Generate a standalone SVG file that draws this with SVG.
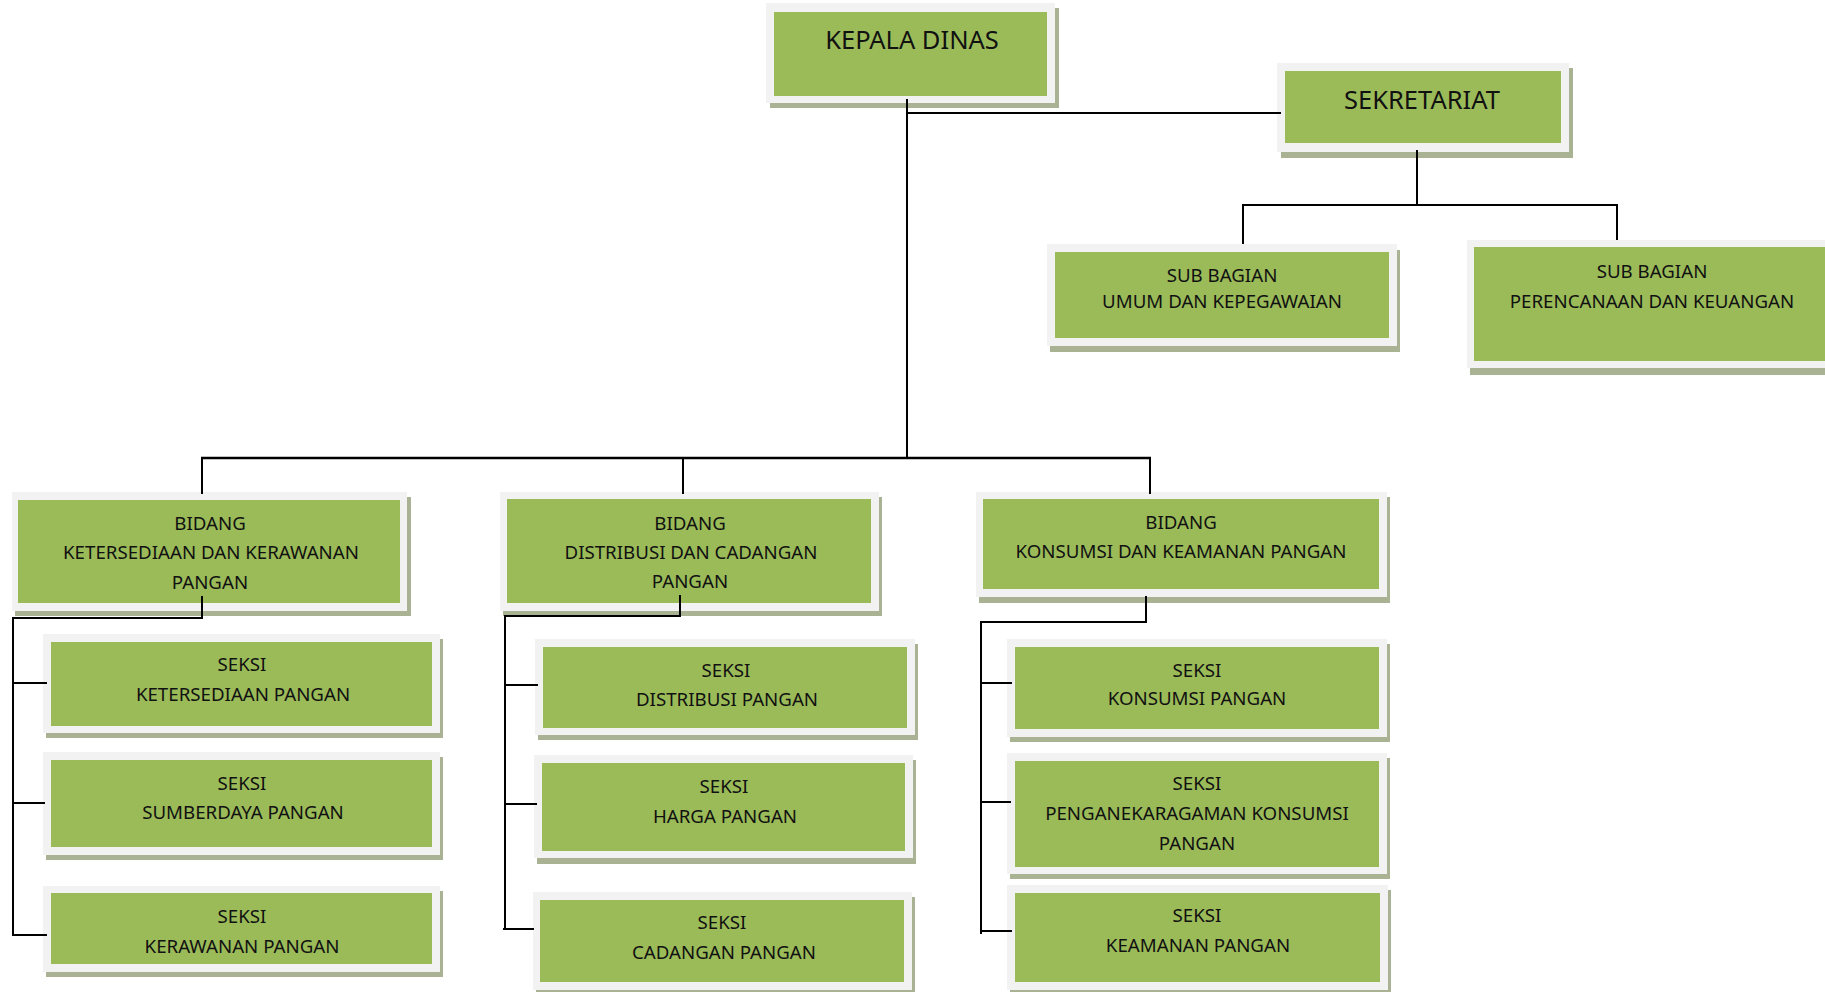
<svg xmlns="http://www.w3.org/2000/svg" width="1825" height="992" viewBox="0 0 1825 992">
<style>
.sh{fill:#a9b293}
.fr{fill:#f2f2f2}
.gr{fill:#9bbb59}
.t{font-family:"Noto Sans","Open Sans","DejaVu Sans",sans-serif;font-size:18.7px;fill:#111;text-anchor:middle}
.b{font-size:25.5px}
.c line{stroke:#000;stroke-width:2;fill:none}
</style>
<rect width="1825" height="992" fill="#fff"/>
<g id="kepala-dinas">
<rect class="sh" x="770" y="8" width="289" height="100"/>
<rect class="fr" x="766" y="3" width="289" height="100"/>
<rect class="gr" x="774" y="12" width="273" height="84"/>
<text class="t b" x="912" y="49">KEPALA DINAS</text>
</g>
<g id="sekretariat">
<rect class="sh" x="1281" y="68" width="292" height="90"/>
<rect class="fr" x="1277" y="63" width="292" height="89"/>
<rect class="gr" x="1285" y="71" width="276" height="72"/>
<text class="t b" x="1422" y="109">SEKRETARIAT</text>
</g>
<g id="subbag-umum">
<rect class="sh" x="1050" y="250" width="350" height="102"/>
<rect class="fr" x="1047" y="244" width="350" height="102"/>
<rect class="gr" x="1055" y="252" width="334" height="86"/>
<text class="t" x="1222" y="282">SUB BAGIAN</text>
<text class="t" x="1222" y="308">UMUM DAN KEPEGAWAIAN</text>
</g>
<g id="subbag-perencanaan">
<rect class="sh" x="1470" y="246" width="360" height="129"/>
<rect class="fr" x="1467" y="240" width="360" height="128"/>
<rect class="gr" x="1474" y="247" width="356" height="114"/>
<text class="t" x="1652" y="278">SUB BAGIAN</text>
<text class="t" x="1652" y="308">PERENCANAAN DAN KEUANGAN</text>
</g>
<g id="bidang-ketersediaan">
<rect class="sh" x="15" y="497" width="396" height="119"/>
<rect class="fr" x="12" y="492" width="395" height="119"/>
<rect class="gr" x="18" y="500" width="382" height="103"/>
<text class="t" x="210" y="530">BIDANG</text>
<text class="t" x="211" y="559">KETERSEDIAAN DAN KERAWANAN</text>
<text class="t" x="210" y="589">PANGAN</text>
</g>
<g id="bidang-distribusi">
<rect class="sh" x="503" y="497" width="379" height="119"/>
<rect class="fr" x="500" y="492" width="379" height="119"/>
<rect class="gr" x="507" y="499" width="364" height="104"/>
<text class="t" x="690" y="530">BIDANG</text>
<text class="t" x="691" y="559">DISTRIBUSI DAN CADANGAN</text>
<text class="t" x="690" y="588">PANGAN</text>
</g>
<g id="bidang-konsumsi">
<rect class="sh" x="979" y="497" width="411" height="106"/>
<rect class="fr" x="976" y="492" width="411" height="105"/>
<rect class="gr" x="983" y="499" width="396" height="90"/>
<text class="t" x="1181" y="529">BIDANG</text>
<text class="t" x="1181" y="558">KONSUMSI DAN KEAMANAN PANGAN</text>
</g>
<g id="seksi-ketersediaan">
<rect class="sh" x="46" y="639" width="397" height="99"/>
<rect class="fr" x="43" y="634" width="397" height="99"/>
<rect class="gr" x="51" y="642" width="381" height="84"/>
<text class="t" x="242" y="671">SEKSI</text>
<text class="t" x="243" y="701">KETERSEDIAAN PANGAN</text>
</g>
<g id="seksi-sumberdaya">
<rect class="sh" x="46" y="757" width="397" height="103"/>
<rect class="fr" x="43" y="752" width="397" height="103"/>
<rect class="gr" x="51" y="760" width="381" height="87"/>
<text class="t" x="242" y="790">SEKSI</text>
<text class="t" x="243" y="819">SUMBERDAYA PANGAN</text>
</g>
<g id="seksi-kerawanan">
<rect class="sh" x="46" y="891" width="397" height="86"/>
<rect class="fr" x="43" y="886" width="397" height="86"/>
<rect class="gr" x="51" y="893" width="381" height="71"/>
<text class="t" x="242" y="923">SEKSI</text>
<text class="t" x="242" y="953">KERAWANAN PANGAN</text>
</g>
<g id="seksi-distribusi">
<rect class="sh" x="538" y="644" width="380" height="96"/>
<rect class="fr" x="535" y="639" width="380" height="96"/>
<rect class="gr" x="543" y="647" width="364" height="81"/>
<text class="t" x="726" y="677">SEKSI</text>
<text class="t" x="727" y="706">DISTRIBUSI PANGAN</text>
</g>
<g id="seksi-harga">
<rect class="sh" x="537" y="760" width="379" height="104"/>
<rect class="fr" x="534" y="755" width="379" height="103"/>
<rect class="gr" x="542" y="763" width="363" height="88"/>
<text class="t" x="724" y="793">SEKSI</text>
<text class="t" x="725" y="823">HARGA PANGAN</text>
</g>
<g id="seksi-cadangan">
<rect class="sh" x="536" y="897" width="379" height="98"/>
<rect class="fr" x="533" y="892" width="379" height="98"/>
<rect class="gr" x="540" y="900" width="364" height="82"/>
<text class="t" x="722" y="929">SEKSI</text>
<text class="t" x="724" y="959">CADANGAN PANGAN</text>
</g>
<g id="seksi-konsumsi">
<rect class="sh" x="1010" y="644" width="380" height="98"/>
<rect class="fr" x="1007" y="639" width="380" height="98"/>
<rect class="gr" x="1015" y="647" width="364" height="82"/>
<text class="t" x="1197" y="677">SEKSI</text>
<text class="t" x="1197" y="705">KONSUMSI PANGAN</text>
</g>
<g id="seksi-penganekaragaman">
<rect class="sh" x="1010" y="758" width="380" height="121"/>
<rect class="fr" x="1007" y="753" width="380" height="121"/>
<rect class="gr" x="1015" y="761" width="364" height="106"/>
<text class="t" x="1197" y="790">SEKSI</text>
<text class="t" x="1197" y="820">PENGANEKARAGAMAN KONSUMSI</text>
<text class="t" x="1197" y="850">PANGAN</text>
</g>
<g id="seksi-keamanan">
<rect class="sh" x="1010" y="890" width="381" height="105"/>
<rect class="fr" x="1007" y="885" width="381" height="105"/>
<rect class="gr" x="1015" y="893" width="365" height="89"/>
<text class="t" x="1197" y="922">SEKSI</text>
<text class="t" x="1198" y="952">KEAMANAN PANGAN</text>
</g>
<g id="connectors" class="c">
<line x1="907" y1="99" x2="907" y2="458"/>
<line x1="906" y1="113" x2="1281" y2="113"/>
<line x1="1417" y1="150" x2="1417" y2="205"/>
<line x1="1242" y1="205" x2="1618" y2="205"/>
<line x1="1243" y1="204" x2="1243" y2="244"/>
<line x1="1617" y1="204" x2="1617" y2="240"/>
<line x1="201" y1="458" x2="1151" y2="458" style="stroke-width:2.5"/>
<line x1="202" y1="457" x2="202" y2="494"/>
<line x1="683" y1="457" x2="683" y2="494"/>
<line x1="1150" y1="457" x2="1150" y2="494"/>
<line x1="202" y1="596" x2="202" y2="619"/>
<line x1="203" y1="618" x2="12" y2="618"/>
<line x1="13" y1="617" x2="13" y2="936"/>
<line x1="12" y1="683" x2="47" y2="683"/>
<line x1="12" y1="803" x2="45" y2="803"/>
<line x1="12" y1="935" x2="47" y2="935"/>
<line x1="680" y1="595" x2="680" y2="617"/>
<line x1="681" y1="616" x2="504" y2="616"/>
<line x1="505" y1="615" x2="505" y2="930"/>
<line x1="504" y1="685" x2="538" y2="685"/>
<line x1="504" y1="804" x2="537" y2="804"/>
<line x1="503" y1="929" x2="534" y2="929"/>
<line x1="1146" y1="596" x2="1146" y2="623"/>
<line x1="1147" y1="622" x2="980" y2="622"/>
<line x1="981" y1="621" x2="981" y2="934"/>
<line x1="980" y1="683" x2="1012" y2="683"/>
<line x1="980" y1="802" x2="1011" y2="802"/>
<line x1="980" y1="931" x2="1012" y2="931"/>
</g>
</svg>
